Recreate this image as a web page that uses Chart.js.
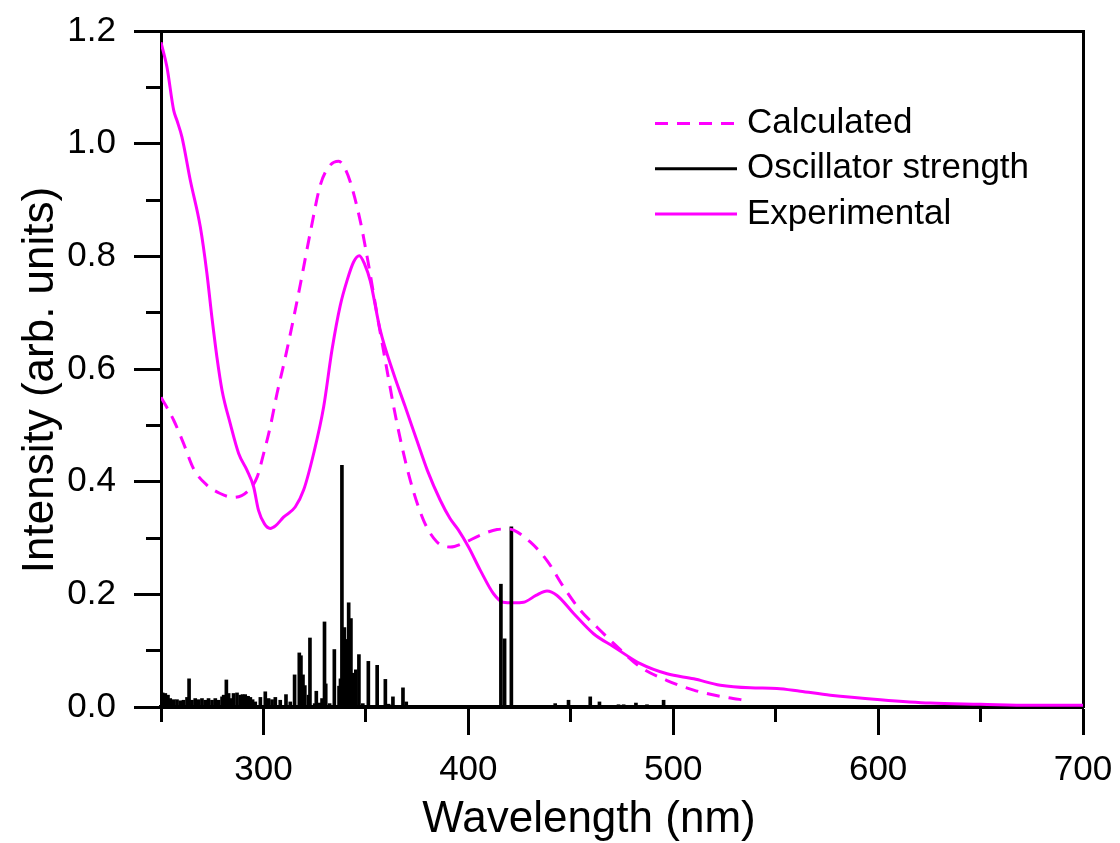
<!DOCTYPE html>
<html>
<head>
<meta charset="utf-8">
<title>Absorption spectrum</title>
<script src="https://cdn.jsdelivr.net/npm/chart.js@4.4.0/dist/chart.umd.min.js"></script>
<style>
  html, body { margin: 0; padding: 0; background: #fff; }
  #wrap { width: 1120px; height: 843px; position: relative; }
</style>
</head>
<body>
<div id="wrap"><canvas id="spectrum"></canvas></div>
<script>
// values
const waveCalc = [250, 256.2, 261, 265.9, 272.4, 278.9, 285.4, 292, 296.9, 300.1, 303.3, 306.6, 310.7, 314.7, 318,
  322.9, 327.8, 332.6, 336.7, 339.5, 342.4, 347.3, 351.3, 355.4, 360.3, 365.2, 371.7, 378.2, 384.7, 391.2, 397.7,
  405.8, 414, 419, 422.1, 430.2, 438.4, 446.5, 454.6, 462.7, 470.9, 483.9, 497, 510, 523, 537]
const intCalc = [0.550, 0.509, 0.468, 0.423, 0.394, 0.379, 0.372, 0.382, 0.408, 0.450, 0.497, 0.556, 0.621, 0.690, 0.750,
  0.843, 0.927, 0.962, 0.969, 0.958, 0.932, 0.862, 0.785, 0.698, 0.598, 0.503, 0.402, 0.331, 0.293, 0.284, 0.291,
  0.305, 0.315, 0.316, 0.314, 0.293, 0.260, 0.213, 0.172, 0.142, 0.113, 0.071, 0.047, 0.030, 0.019, 0.011]

const waveExp = [250, 252.9, 256.2, 257.8, 260.2, 264.3, 269.2, 272.4, 274.9, 277.3, 279.8, 283.8, 287.9, 292, 295.2, 297.6,
  300.5, 303.3, 306, 309.8, 315.5, 319.6, 324.5, 329.4, 333.5, 337.5, 340.8, 344, 346.8, 349.5, 352.1, 357, 363.5,
  369, 374.9, 380, 386.3, 391, 395.2, 400.1, 405.8, 412.3, 417, 422.1, 427, 433, 438.4, 443.3, 451.4, 461.1, 470.9,
  483.9, 497, 510, 523, 537.6, 550.6, 562, 576.7, 601.1, 625.5, 649.9, 674.3, 700]
const intExp = [1.180, 1.136, 1.059, 1.041, 1.012, 0.935, 0.852, 0.770, 0.690, 0.621, 0.562, 0.503, 0.450, 0.420, 0.391, 0.349,
  0.325, 0.317, 0.322, 0.337, 0.355, 0.385, 0.450, 0.533, 0.635, 0.713, 0.757, 0.790, 0.801, 0.785, 0.757, 0.669, 0.592,
  0.535, 0.473, 0.420, 0.367, 0.335, 0.314, 0.284, 0.243, 0.201, 0.186, 0.185, 0.186, 0.198, 0.206, 0.198, 0.166, 0.130, 0.107,
  0.077, 0.059, 0.050, 0.0385, 0.034, 0.033, 0.028, 0.021, 0.013, 0.007, 0.005, 0.003, 0.003]

const waveOsc = [250.8, 252.1, 253.4, 254.5, 256.2, 257.8, 259.4, 261, 262.7, 263.7, 265.1, 266.7, 268.4, 270, 271.6,
  273.2, 274.9, 276.5, 278.1, 279.8, 280.6, 281.9, 283, 284.3, 285.4, 287.1, 288.7, 289.8, 291.1, 292.5, 293.6, 294.7,
  296, 298.5, 300.9, 302.5, 304.2, 305.8, 308.2, 311, 313.1, 315.2, 317.5, 318.3, 319.3, 320.2, 322, 322.7, 325, 325.8,
  327.5, 328.6, 329.8, 330.4, 332.3, 334.6, 336.9, 337.6, 338.3, 339, 339.5, 340.2, 340.8, 341.6, 342.2, 342.7, 343.5,
  344.2, 345.1, 346.6, 348.5, 351.2, 355.5, 359.5, 361.1, 363.2, 368.1, 369.7, 415.9, 417.7, 421, 442.4, 448.9, 459.5,
  464, 473.3, 475.8, 481.8, 487.2, 495.3]
const fOsc = [0.025, 0.024, 0.021, 0.015, 0.013, 0.013, 0.011, 0.012, 0.017, 0.050, 0.012, 0.015, 0.013, 0.015, 0.012,
  0.015, 0.012, 0.015, 0.012, 0.018, 0.021, 0.048, 0.024, 0.015, 0.024, 0.025, 0.021, 0.022, 0.022, 0.019, 0.017, 0.013,
  0.009, 0.017, 0.027, 0.015, 0.013, 0.017, 0.012, 0.022, 0.009, 0.057, 0.096, 0.091, 0.057, 0.038, 0.021, 0.1225, 0.006, 0.028,
  0.007, 0.015, 0.151, 0.041, 0.006, 0.102, 0.037, 0.050, 0.429, 0.090, 0.141, 0.120, 0.100, 0.185, 0.130, 0.157, 0.060,
  0.040, 0.066, 0.093, 0.006, 0.081, 0.074, 0.049, 0.005, 0.018, 0.034, 0.009, 0.218, 0.121, 0.320, 0.006, 0.012, 0.018,
  0.009, 0.004, 0.004, 0.007, 0.004, 0.012]

const xTitle = 'Wavelength (nm)'
const yTitle = 'Intensity (arb. units)'
const FONT = "'Liberation Sans', Arial, sans-serif"
const MAGENTA = '#ff00ff'

const pts = (xs, ys) => xs.map((x, i) => ({ x: x, y: ys[i] }))
const isMajorX = v => Math.round(v) % 100 === 0
const isMajorY = v => Math.round(v * 10) % 2 === 0

// pin the axis boxes so the plot frame lands where the figure has it
const fixBox = (w, h) => s => {
  if (w != null) s.width = w
  if (h != null) s.height = h
  s.paddingTop = s.paddingBottom = s.paddingLeft = s.paddingRight = 0
}

// axis titles + legend drawn by hand so they sit where the figure has them
const overlay = {
  id: 'overlay',
  afterDraw(chart) {
    const ctx = chart.ctx
    ctx.save()
    ctx.fillStyle = '#000'
    ctx.font = '44px ' + FONT
    ctx.textAlign = 'center'
    ctx.textBaseline = 'alphabetic'
    ctx.fillText(xTitle, 589, 832)
    ctx.translate(53, 380)
    ctx.rotate(-Math.PI / 2)
    ctx.fillText(yTitle, 0, 0)
    ctx.restore()

    ctx.save()
    ctx.font = '35px ' + FONT
    ctx.textAlign = 'left'
    ctx.textBaseline = 'middle'
    chart.data.datasets.forEach((ds, i) => {
      const y = 123.5 + i * 45.3
      ctx.strokeStyle = ds.borderColor
      ctx.lineWidth = 3
      ctx.setLineDash(ds.borderDash || [])
      ctx.beginPath()
      ctx.moveTo(655, y)
      ctx.lineTo(737, y)
      ctx.stroke()
      ctx.setLineDash([])
      ctx.fillStyle = '#000'
      ctx.fillText(ds.label, 747, y)
    })
    ctx.restore()
  }
}

const ctx = document.getElementById('spectrum').getContext('2d')
const chart = new Chart(ctx, {
  type: 'line',
  data: {
    datasets: [{
      label: 'Calculated',
      data: pts(waveCalc, intCalc),
      borderColor: MAGENTA,
      borderWidth: 3,
      borderDash: [13, 9],
      pointRadius: 0,
      cubicInterpolationMode: 'monotone',
      fill: false
    }, {
      type: 'bar',
      label: 'Oscillator strength',
      data: pts(waveOsc, fOsc),
      backgroundColor: '#000',
      borderColor: '#000',
      borderWidth: 0,
      barThickness: 3
    }, {
      label: 'Experimental',
      data: pts(waveExp, intExp),
      borderColor: MAGENTA,
      borderWidth: 3,
      pointRadius: 0,
      cubicInterpolationMode: 'monotone',
      fill: false
    }]
  },
  plugins: [overlay],
  options: {
    responsive: true,
    maintainAspectRatio: false,
    animation: false,
    layout: { padding: 0, autoPadding: false },
    plugins: {
      legend: { display: false },
      tooltip: { enabled: false }
    },
    scales: {
      x: {
        type: 'linear',
        position: 'bottom',
        min: 250,
        max: 700,
        offset: false,
        afterFit: fixBox(null, 136),
        border: { display: true, color: '#000', width: 4 },
        grid: {
          offset: false,
          drawOnChartArea: false,
          tickLength: 28,
          tickWidth: 3,
          tickColor: '#000',
          tickBorderDash: c => (c.tick && isMajorX(c.tick.value)) ? [] : [13, 100]
        },
        ticks: {
          stepSize: 50,
          autoSkip: false,
          maxRotation: 0,
          padding: 14,
          color: '#000',
          font: { family: FONT, size: 35 },
          callback: v => isMajorX(v) ? String(v) : ''
        }
      },
      x2: {
        type: 'linear',
        position: 'top',
        display: true,
        min: 250,
        max: 700,
        afterFit: fixBox(null, 31),
        border: { display: true, color: '#000', width: 3 },
        grid: { drawOnChartArea: false, drawTicks: false },
        ticks: { display: false }
      },
      y: {
        type: 'linear',
        position: 'left',
        min: 0,
        max: 1.2,
        afterFit: fixBox(161, null),
        border: { display: true, color: '#000', width: 3 },
        grid: {
          drawOnChartArea: false,
          tickLength: 27,
          tickWidth: 3,
          tickColor: '#000',
          tickBorderDash: c => (c.tick && isMajorY(c.tick.value)) ? [] : [0, 12, 30, 100]
        },
        ticks: {
          stepSize: 0.1,
          autoSkip: false,
          padding: 18,
          color: '#000',
          font: { family: FONT, size: 35 },
          callback: v => isMajorY(v) ? v.toFixed(1) : ''
        }
      },
      y2: {
        type: 'linear',
        position: 'right',
        display: true,
        min: 0,
        max: 1.2,
        afterFit: fixBox(37, null),
        border: { display: true, color: '#000', width: 3 },
        grid: { drawOnChartArea: false, drawTicks: false },
        ticks: { display: false }
      }
    }
  }
})
</script>
</body>
</html>
